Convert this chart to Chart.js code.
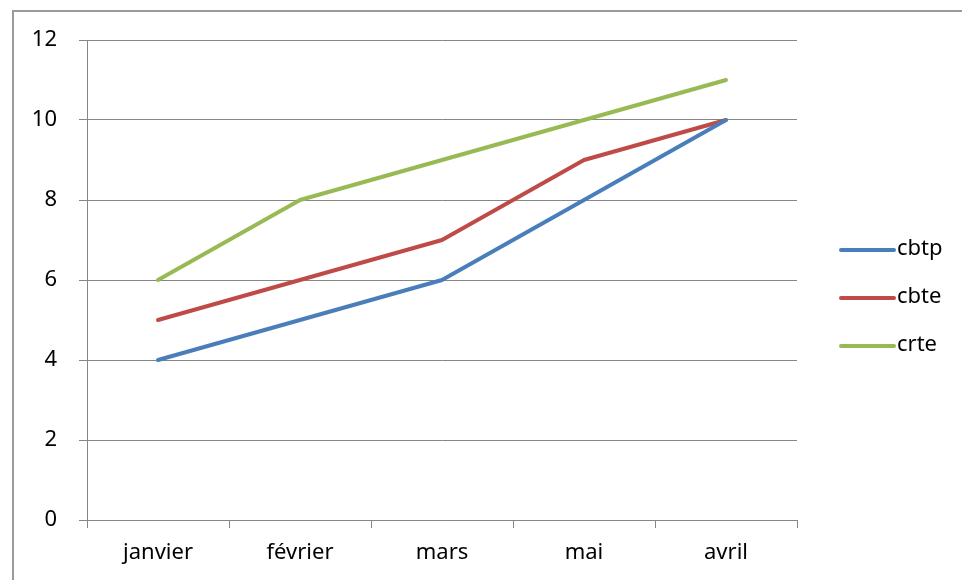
<!DOCTYPE html>
<html>
<head>
<meta charset="utf-8">
<script src="https://cdn.jsdelivr.net/npm/chart.js@4"></script>
<style>
  html, body { margin:0; padding:0; background:#fff; }
  #wrap { position:relative; width:962px; height:580px; overflow:hidden; }
  #frame { position:absolute; left:12px; top:10px; width:960px; height:580px; border-top:2px solid #9a9a9a; border-left:2px solid #9a9a9a; }
  canvas { position:absolute; left:0; top:0; }
</style>
</head>
<body>
<div id="wrap">
  <div id="frame"></div>
  <canvas id="chart" width="962" height="580"></canvas>
</div>
<script>
/* mois et séries */
const months = ['janvier', 'février', 'mars', 'mai', 'avril'];
const cbtp = [4, 5, 6, 8, 10];
const cbte = [5, 6, 7, 9, 10];
const crte = [6, 8, 9, 10, 11];
const seriesNames = ['cbtp', 'cbte', 'crte'];
const seriesColors = ['#4a7ebb', '#be4b48', '#98b954'];

const FONT = { family:'"Noto Sans", sans-serif', size:22 };
const GRID = '#868686';

// légende à droite, façon Excel
const sideLegend = {
  id: 'sideLegend',
  afterDraw(chart) {
    const ctx = chart.ctx;
    ctx.save();
    ctx.font = `${FONT.size}px ${FONT.family}`;
    ctx.textBaseline = 'middle';
    chart.data.datasets.forEach((ds, i) => {
      const y = 250 + i * 48;
      ctx.strokeStyle = ds.borderColor;
      ctx.lineWidth = 4;
      ctx.lineCap = 'round';
      ctx.beginPath(); ctx.moveTo(841, y); ctx.lineTo(894, y); ctx.stroke();
      ctx.fillStyle = '#000';
      ctx.fillText(ds.label, 897, y - 1);
    });
    ctx.restore();
  }
};

const mkSet = (i, data) => ({
  label: seriesNames[i], data, borderColor: seriesColors[i], backgroundColor: seriesColors[i],
  borderWidth: 4, pointRadius: 0, tension: 0, borderCapStyle: 'round', borderJoinStyle: 'round'
});

new Chart(document.getElementById('chart'), {
  type: 'line',
  data: { labels: months, datasets: [mkSet(0, cbtp), mkSet(1, cbte), mkSet(2, crte)] },
  options: {
    responsive: false, animation: false, devicePixelRatio: 1,
    layout: { padding: { left:0, right:165, top:40, bottom:0 } },
    plugins: { legend: { display:false }, tooltip: { enabled:false } },
    scales: {
      x: {
        offset: true,
        grid: { display:true, offset:true, drawOnChartArea:false, drawTicks:true, tickLength:8, color:GRID, lineWidth:1 },
        border: { display:true, color:GRID, width:1 },
        ticks: { color:'#000', font:FONT, padding:12, maxRotation:0 },
        afterFit: s => { s.height = 60; }
      },
      y: {
        min: 0, max: 12,
        grid: { color:GRID, lineWidth:1, tickLength:8 },
        border: { display:true, color:GRID, width:1 },
        ticks: { stepSize:2, color:'#000', font:FONT, padding:22 },
        afterFit: s => { s.width = 87; }
      }
    }
  },
  plugins: [sideLegend]
});
</script>
</body>
</html>
